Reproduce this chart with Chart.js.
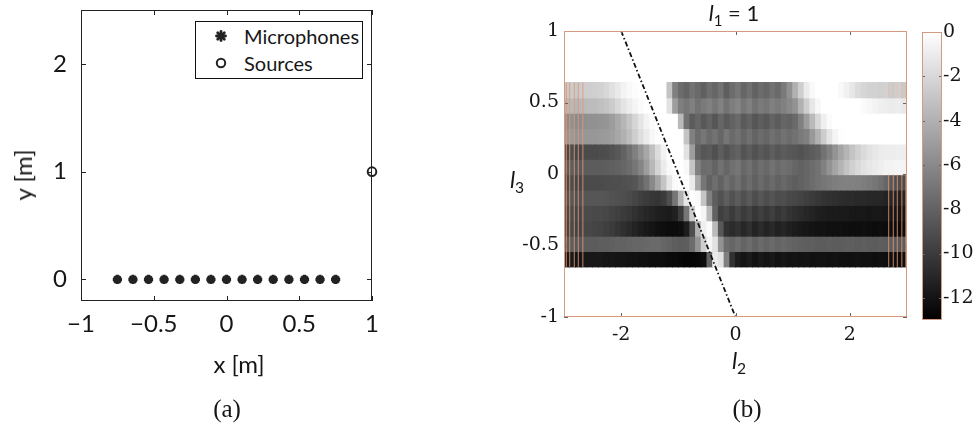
<!DOCTYPE html>
<html><head><meta charset="utf-8">
<script src="https://cdn.jsdelivr.net/npm/chart.js@4.4.1/dist/chart.umd.min.js"></script>
<style>
html,body{margin:0;padding:0;background:#fff;width:979px;height:426px;overflow:hidden;}
#root{position:relative;width:979px;height:426px;}
canvas{position:absolute;}
.lbl{position:absolute;white-space:nowrap;color:#161616;transform:translate(-50%,-50%);line-height:1;}
.sans{font-family:Lato,"Open Sans",sans-serif;}
.serif{font-family:"Liberation Serif","DejaVu Serif",serif;}
.lbl sub{font-size:0.68em;vertical-align:-0.3em;}
#legA{position:absolute;left:195px;top:21px;width:166px;height:56px;border:1px solid #111;background:#fff;}
#legA .row{position:absolute;left:0;height:20px;display:flex;align-items:center;font-family:Lato,sans-serif;font-size:20px;color:#161616;}
#legA svg{margin-left:16px;margin-right:14px;}
</style></head>
<body><div id="root">
<canvas id="cA" width="400" height="426" style="left:0;top:0"></canvas>
<canvas id="cB" width="440" height="426" style="left:480px;top:0"></canvas>
<canvas id="cC" width="79" height="426" style="left:900px;top:0"></canvas>
<div id="legA">
  <div class="row" style="top:4px"><svg width="18" height="18" viewBox="-9 -9 18 18"><g stroke="#222" stroke-width="2.8" stroke-linecap="round"><line x1="-4.5" y1="0" x2="4.5" y2="0"/><line x1="0" y1="-4.5" x2="0" y2="4.5"/><line x1="-3.3" y1="-3.3" x2="3.3" y2="3.3"/><line x1="-3.3" y1="3.3" x2="3.3" y2="-3.3"/></g></svg>Microphones</div>
  <div class="row" style="top:31px"><svg width="18" height="18" viewBox="-9 -9 18 18"><circle cx="0" cy="0" r="4.2" fill="none" stroke="#222" stroke-width="2"/></svg>Sources</div>
</div>
<div class="lbl sans" style="left:239px;top:364px;font-size:24px">x [m]</div>
<div class="lbl sans" style="left:23px;top:175px;font-size:24px;transform:translate(-50%,-50%) rotate(-90deg)">y [m]</div>
<div class="lbl serif" style="left:227px;top:408px;font-size:25px">(a)</div>
<div class="lbl sans" style="left:734px;top:15px;font-size:22px"><i>l</i><sub>1</sub> = 1</div>
<div class="lbl sans" style="left:517px;top:182px;font-size:23px"><i>l</i><sub>3</sub></div>
<div class="lbl sans" style="left:739px;top:363px;font-size:23px"><i>l</i><sub>2</sub></div>
<div class="lbl serif" style="left:747px;top:408px;font-size:25px">(b)</div>
</div>
<script>
// ---------- panel (a) data ----------
const micX = [-0.75,-0.643,-0.536,-0.429,-0.321,-0.214,-0.107,0,0.107,0.214,0.321,0.429,0.536,0.643,0.75];
const micY = [0,0,0,0,0,0,0,0,0,0,0,0,0,0,0];
const srcX = [1];
const srcY = [1];
const xTicksA = [-1,-0.5,0,0.5,1];
const xTickLabelsA = ['\u22121','\u22120.5','0','0.5','1'];
const yTicksA = [0,1,2];
const yTickLabelsA = ['0','1','2'];

// ---------- panel (b) data ----------
const l2Centers = [-2.95,-2.85,-2.75,-2.65,-2.55,-2.45,-2.35,-2.25,-2.15,-2.05,
  -1.95,-1.85,-1.75,-1.65,-1.55,-1.45,-1.35,-1.25,-1.15,-1.05,
  -0.95,-0.85,-0.75,-0.65,-0.55,-0.45,-0.35,-0.25,-0.15,-0.05,
  0.05,0.15,0.25,0.35,0.45,0.55,0.65,0.75,0.85,0.95,
  1.05,1.15,1.25,1.35,1.45,1.55,1.65,1.75,1.85,1.95,
  2.05,2.15,2.25,2.35,2.45,2.55,2.65,2.75,2.85,2.95];
const l3Top    = [0.64,0.5325,0.425,0.3175,0.21,0.1025,-0.005,-0.1125,-0.22,-0.3275,-0.435,-0.5425];
const l3Bottom = [0.5325,0.425,0.3175,0.21,0.1025,-0.005,-0.1125,-0.22,-0.3275,-0.435,-0.5425,-0.65];
const dbRow01 = [-2.8,-2.6,-2.7,-2.5,-2.5,-2.4,-2.3,-2.0,-1.6,-1.1, -0.6,-0.3,-0.1,0,0,0,0,0,-3.0,-6.5,
  -7.5,-7.9,-7.2,-7.6,-8.1,-7.4,-7.8,-7.2,-8.2,-7.5, -7.0,-7.8,-7.3,-8.0,-7.5,-7.8,-7.2,-7.6,-6.8,-5.6,
  -4.0,-2.5,-1.0,-0.3,0,0,0,0,-0.3,-0.7, -1.2,-1.8,-2.1,-2.3,-2.3,-2.4,-2.3,-2.6,-2.4,-2.7];
const dbRow02 = [-3.6,-3.5,-3.7,-3.5,-3.4,-3.4,-3.2,-3.0,-2.6,-2.0, -1.4,-0.9,-0.5,-0.2,0,0,0,0,-1.5,-5.0,
  -6.6,-7.0,-6.5,-7.2,-6.8,-6.5,-7.0,-6.4,-7.2,-6.6, -6.2,-7.0,-6.5,-7.2,-6.8,-7.0,-6.5,-6.8,-6.4,-6.0,
  -5.5,-4.0,-2.5,-1.2,-0.4,0,0,0,0,0, 0,0,-0.2,-0.4,-0.6,-0.8,-0.9,-1.0,-0.9,-1.1];
const dbRow03 = [-5.8,-5.6,-5.9,-5.7,-5.6,-5.6,-5.5,-5.4,-5.0,-4.4, -3.7,-2.9,-2.1,-1.3,-0.6,-0.2,0,0,0,0,
  -3.5,-7.2,-8.3,-7.8,-8.5,-8.0,-8.6,-7.8,-8.4,-8.0, -7.6,-8.4,-8.0,-8.6,-8.2,-8.5,-7.9,-8.3,-7.8,-8.0,
  -7.6,-6.5,-5.0,-3.5,-2.0,-0.8,-0.2,0,0,0, 0,0,0,0,0,0,0,0,0,0];
const dbRow04 = [-5.4,-5.2,-5.5,-5.3,-5.3,-5.3,-5.2,-5.1,-4.9,-4.5, -4.0,-3.3,-2.5,-1.7,-1.0,-0.4,-0.1,0,0,0,
  0,-3.0,-6.5,-7.5,-7.0,-7.6,-7.2,-7.8,-7.0,-7.6, -7.2,-7.8,-7.3,-7.9,-7.5,-7.8,-7.3,-7.6,-7.2,-7.5,
  -7.2,-6.8,-6.5,-5.2,-4.0,-2.6,-1.4,-0.5,-0.1,0, 0,0,0,0,0,0,0,0,0,0];
const dbRow05 = [-9.3,-9.0,-9.4,-9.2,-9.2,-9.2,-9.1,-9.0,-8.8,-8.5, -8.0,-7.3,-6.5,-5.5,-4.5,-3.2,-1.8,-0.6,0,0,
  0,-1.5,-5.0,-8.0,-8.6,-8.4,-8.9,-8.2,-8.8,-8.3, -8.0,-8.7,-8.3,-8.8,-8.4,-8.7,-8.2,-8.6,-8.3,-8.5,
  -8.6,-8.8,-8.5,-8.3,-8.0,-7.2,-6.4,-5.5,-4.6,-3.8, -3.0,-2.4,-1.9,-1.5,-1.2,-1.0,-0.9,-0.9,-0.8,-0.9];
const dbRow06 = [-8.4,-8.2,-8.5,-8.3,-8.3,-8.3,-8.3,-8.2,-8.1,-8.0, -7.8,-7.5,-7.0,-6.2,-5.0,-3.6,-2.2,-1.0,-0.3,0,
  0,-0.3,-3.0,-6.5,-7.5,-7.4,-7.9,-7.2,-7.8,-7.3, -7.0,-7.7,-7.3,-7.9,-7.4,-7.7,-7.2,-7.6,-7.3,-7.5,
  -7.8,-8.0,-7.8,-7.5,-7.2,-6.4,-5.5,-4.6,-3.8,-3.0, -2.4,-1.9,-1.5,-1.2,-1.0,-0.8,-0.6,-0.6,-0.5,-0.6];
const dbRow07 = [-9.3,-9.1,-9.4,-9.2,-9.2,-9.2,-9.2,-9.1,-9.0,-9.0, -8.9,-8.8,-8.6,-8.0,-7.2,-6.0,-4.6,-3.0,-1.2,-0.2,
  0,0,-1.0,-4.5,-7.0,-8.0,-7.4,-8.0,-7.3,-7.8, -7.3,-8.0,-7.5,-8.1,-7.6,-8.0,-7.6,-8.0,-7.7,-8.0,
  -8.2,-8.0,-7.8,-7.5,-7.2,-7.0,-6.8,-6.6,-6.5,-6.4, -6.4,-6.5,-6.6,-6.8,-7.0,-7.3,-7.8,-8.5,-9.0,-9.2];
const dbRow08 = [-8.7,-8.5,-8.8,-8.6,-8.6,-8.6,-8.6,-8.7,-8.8,-8.9, -9.0,-9.2,-9.5,-9.8,-10.0,-10.2,-10.3,-10.0,-9.0,-7.0,
  -4.0,-1.2,0,-0.3,-3.0,-6.5,-8.2,-8.8,-8.2,-8.8, -8.3,-8.9,-8.4,-9.0,-8.6,-9.0,-8.7,-9.1,-9.0,-9.3,
  -9.4,-9.6,-9.8,-10.0,-10.2,-10.4,-10.5,-10.6,-10.7,-10.8, -10.8,-10.9,-10.9,-11.0,-11.0,-11.0,-11.2,-11.0,-11.3,-11.1];
const dbRow09 = [-9.3,-9.1,-9.4,-9.2,-9.2,-9.3,-9.3,-9.4,-9.6,-9.8, -10.0,-10.2,-10.5,-10.8,-11.0,-11.2,-11.4,-11.5,-11.6,-11.3,
  -10.0,-7.0,-2.5,0,-0.5,-3.5,-8.0,-9.8,-9.4,-10.0, -9.4,-10.0,-9.6,-10.2,-9.8,-10.2,-9.8,-10.3,-10.0,-10.4,
  -10.6,-10.8,-11.0,-11.2,-11.4,-11.5,-11.6,-11.6,-11.7,-11.7, -11.8,-11.8,-11.8,-11.9,-11.8,-11.8,-11.9,-11.8,-12.0,-11.9];
const dbRow10 = [-9.5,-9.3,-9.6,-9.4,-9.4,-9.5,-9.6,-9.8,-10.0,-10.3, -10.6,-10.9,-11.2,-11.5,-11.8,-12.0,-12.2,-12.3,-12.4,-12.4,
  -12.3,-11.5,-9.0,-4.0,-0.8,-0.2,-3.5,-8.5,-10.5,-10.8, -10.5,-11.0,-10.6,-11.2,-10.8,-11.2,-10.9,-11.3,-11.1,-11.4,
  -11.6,-11.8,-11.9,-12.0,-12.1,-12.1,-12.2,-12.2,-12.2,-12.3, -12.3,-12.3,-12.2,-12.3,-12.4,-12.3,-12.4,-12.3,-12.5,-12.4];
const dbRow11 = [-8.4,-8.2,-8.5,-8.3,-8.3,-8.3,-8.2,-8.2,-8.1,-8.0, -8.0,-7.9,-7.8,-7.8,-7.7,-7.6,-7.6,-7.8,-8.0,-8.2,
  -8.3,-8.2,-7.5,-5.5,-2.5,-0.5,-1.5,-5.5,-7.5,-7.8, -7.4,-7.9,-7.5,-8.0,-7.6,-7.9,-7.6,-7.9,-7.7,-7.9,
  -8.0,-8.1,-8.2,-8.2,-8.3,-8.3,-8.2,-8.3,-8.3,-8.2, -8.2,-8.3,-8.2,-8.3,-8.3,-8.2,-8.3,-8.2,-8.4,-8.3];
const dbRow12 = [-11.9,-11.7,-12.0,-11.8,-11.8,-11.8,-11.8,-11.9,-11.9,-12.0, -12.0,-12.1,-12.1,-12.2,-12.2,-12.3,-12.3,-12.4,-12.5,-12.5,
  -12.6,-12.7,-12.7,-12.6,-12.4,-8.0,-1.0,-1.5,-6.5,-10.5, -11.6,-12.0,-11.7,-12.1,-11.8,-12.0,-11.8,-12.1,-11.9,-12.1,
  -12.0,-12.1,-12.0,-12.2,-12.1,-12.1,-12.2,-12.1,-12.2,-12.2, -12.2,-12.1,-12.2,-12.2,-12.3,-12.2,-12.3,-12.2,-12.4,-12.3];
const dbRows = [dbRow01,dbRow02,dbRow03,dbRow04,dbRow05,dbRow06,dbRow07,dbRow08,dbRow09,dbRow10,dbRow11,dbRow12];
const lineL2 = [-2, 0];
const lineL3 = [1, -1];
const stripeLeftL2 = [-2.96,-2.90,-2.82,-2.75,-2.67];
const stripeLeftL3 = [-0.65, 0.64];
const stripeRightL2 = [2.68,2.76,2.83,2.91,2.98];
const stripeRightL3Low = [-0.65, -0.005];
const stripeRightL3High = [0.5325, 0.64];
const xTicksB = [-2,0,2];
const xTickLabelsB = ['-2','0','2'];
const yTicksB = [-1,-0.5,0,0.5,1];
const yTickLabelsB = ['-1','-0.5','0','0.5','1'];
const cbTicks = [0,-2,-4,-6,-8,-10,-12];
const cbTickLabels = ['0','-2','-4','-6','-8','-10','-12'];
const cbRange = [-13, 0];

// ---------- helpers ----------
function gray(v){
  const t = Math.max(0, Math.min(1, (v - cbRange[0]) / (cbRange[1] - cbRange[0])));
  const g = Math.round(255 * t);
  return 'rgb(' + g + ',' + g + ',' + g + ')';
}
function fixV(w){ return s => { s.width = w; s.paddingTop = 0; s.paddingBottom = 0; }; }
function fixH(h){ return s => { s.height = h; s.paddingLeft = 0; s.paddingRight = 0; }; }
const boxPlugin = {
  id: 'boxTicks',
  afterDraw(chart, args, o){
    const {ctx, chartArea: a} = chart;
    ctx.save();
    ctx.lineWidth = 1;
    ctx.strokeStyle = o.tickColor;
    const L = o.len;
    if (o.xTicks) {
      const xs = chart.scales.x;
      xs.ticks.forEach(t => {
        const p = Math.round(xs.getPixelForValue(t.value)) + 0.5;
        ctx.beginPath();
        ctx.moveTo(p, a.bottom); ctx.lineTo(p, a.bottom - L);
        ctx.moveTo(p, a.top); ctx.lineTo(p, a.top + L);
        ctx.stroke();
      });
    }
    const ys = chart.scales.y;
    ys.ticks.forEach(t => {
      const p = Math.round(ys.getPixelForValue(t.value)) + 0.5;
      ctx.beginPath();
      ctx.moveTo(a.left, p); ctx.lineTo(a.left + L, p);
      ctx.moveTo(a.right, p); ctx.lineTo(a.right - L, p);
      ctx.stroke();
    });
    ctx.strokeStyle = o.boxColor;
    ctx.strokeRect(Math.round(a.left) + 0.5, Math.round(a.top) + 0.5, Math.round(a.right - a.left) - 1, Math.round(a.bottom - a.top) - 1);
    ctx.restore();
  }
};
Chart.defaults.animation = false;
Chart.defaults.plugins.legend.display = false;
Chart.defaults.plugins.tooltip.enabled = false;
const noGrid = { display: false, drawTicks: false, tickLength: 0 };

// ---------- panel (a) ----------
new Chart(document.getElementById('cA'), {
  type: 'scatter',
  data: { datasets: [
    { data: micX.map((x,i)=>({x, y: micY[i]})), pointStyle: 'star', pointRadius: 4.6, borderWidth: 3,
      borderColor: '#222', backgroundColor: '#222', clip: false },
    { data: srcX.map((x,i)=>({x, y: srcY[i]})), pointStyle: 'circle', pointRadius: 4.3, borderWidth: 2,
      borderColor: '#222', backgroundColor: 'rgba(0,0,0,0)', clip: false }
  ]},
  options: {
    responsive: false,
    layout: { padding: { top: 10, right: 28, left: 0, bottom: 0 } },
    scales: {
      x: { type: 'linear', min: -1, max: 1,
        afterBuildTicks: s => { s.ticks = xTicksA.map(v => ({value: v})); },
        afterFit: fixH(125),
        grid: noGrid, border: { display: false },
        ticks: { autoSkip: false, maxRotation: 0, padding: 9, color: '#161616',
          font: { family: 'Lato', size: 24 },
          callback: v => xTickLabelsA[xTicksA.indexOf(v)] } },
      y: { type: 'linear', min: -0.2, max: 2.5,
        afterBuildTicks: s => { s.ticks = yTicksA.map(v => ({value: v})); },
        afterFit: fixV(81),
        grid: noGrid, border: { display: false },
        ticks: { autoSkip: false, padding: 14, color: '#161616',
          font: { family: 'Lato', size: 24 },
          callback: v => yTickLabelsA[yTicksA.indexOf(v)] } }
    },
    plugins: { boxTicks: { tickColor: '#222', boxColor: '#222', len: 5, xTicks: true } }
  },
  plugins: [boxPlugin]
});

// ---------- panel (b) ----------
const heatSets = dbRows.map((row, r) => ({
  type: 'bar', order: 10,
  data: l2Centers.map(x => ({x, y: [l3Bottom[r], l3Top[r]]})),
  backgroundColor: row.map(gray),
  borderWidth: 0, borderSkipped: false, grouped: false,
  barPercentage: 1, categoryPercentage: 1, inflateAmount: 0.45
}));
function stripePoints(xs, lo, hi){
  const pts = [];
  xs.forEach(x => { pts.push({x, y: lo}); pts.push({x, y: hi}); pts.push({x, y: null}); });
  return pts;
}
const stripeStyle = { type: 'line', order: 5, borderColor: 'rgba(222,150,118,0.85)', borderWidth: 1,
  pointRadius: 0, spanGaps: false, tension: 0 };
new Chart(document.getElementById('cB'), {
  type: 'bar',
  data: { datasets: heatSets.concat([
    Object.assign({ data: stripePoints(stripeLeftL2, stripeLeftL3[0], stripeLeftL3[1]) }, stripeStyle),
    Object.assign({ data: stripePoints(stripeRightL2, stripeRightL3Low[0], stripeRightL3Low[1]) }, stripeStyle),
    Object.assign({ data: stripePoints(stripeRightL2, stripeRightL3High[0], stripeRightL3High[1]) }, stripeStyle, {borderColor: 'rgba(230,185,165,0.7)'}),
    { type: 'line', order: 0, data: lineL2.map((x,i)=>({x, y: lineL3[i]})), borderColor: '#111',
      borderWidth: 1.8, borderDash: [5, 2.5, 1.5, 2.5], pointRadius: 0, clip: false }
  ])},
  options: {
    responsive: false,
    layout: { padding: { top: 31, right: 13, left: 0, bottom: 0 } },
    scales: {
      x: { type: 'linear', min: -3, max: 3, offset: false,
        afterBuildTicks: s => { s.ticks = xTicksB.map(v => ({value: v})); },
        afterFit: fixH(109),
        grid: noGrid, border: { display: false },
        ticks: { autoSkip: false, maxRotation: 0, padding: 7, color: '#161616',
          font: { family: 'DejaVu Serif', size: 19 },
          callback: v => xTickLabelsB[xTicksB.indexOf(v)] } },
      y: { type: 'linear', min: -1, max: 1,
        afterBuildTicks: s => { s.ticks = yTicksB.map(v => ({value: v})); },
        afterFit: fixV(84),
        grid: noGrid, border: { display: false },
        ticks: { autoSkip: false, padding: 5, color: '#161616',
          font: { family: 'DejaVu Serif', size: 19 },
          callback: v => yTickLabelsB[yTicksB.indexOf(v)] } }
    },
    plugins: { boxTicks: { tickColor: '#666', boxColor: '#d49a82', len: 4, xTicks: true } }
  },
  plugins: [boxPlugin]
});

// ---------- colorbar ----------
new Chart(document.getElementById('cC'), {
  type: 'bar',
  data: { labels: ['dB'], datasets: [{
    data: [cbRange],
    backgroundColor: ctx => {
      const ch = ctx.chart;
      if (!ch.chartArea) return '#888';
      const ys = ch.scales.y;
      const g = ch.ctx.createLinearGradient(0, ys.getPixelForValue(cbRange[1]), 0, ys.getPixelForValue(cbRange[0]));
      g.addColorStop(0, gray(cbRange[1]));
      g.addColorStop(1, gray(cbRange[0]));
      return g;
    },
    borderWidth: 0, borderSkipped: false, barPercentage: 1, categoryPercentage: 1
  }]},
  options: {
    responsive: false,
    layout: { padding: { top: 32, right: 0, left: 22, bottom: 106 } },
    scales: {
      x: { display: false },
      y: { type: 'linear', position: 'right', min: cbRange[0], max: cbRange[1],
        afterBuildTicks: s => { s.ticks = cbTicks.map(v => ({value: v})); },
        afterFit: fixV(37),
        grid: noGrid, border: { display: false },
        ticks: { autoSkip: false, padding: 1, color: '#161616',
          font: { family: 'DejaVu Serif', size: 19 },
          callback: v => cbTickLabels[cbTicks.indexOf(v)] } }
    },
    plugins: { boxTicks: { tickColor: '#666', boxColor: '#d49a82', len: 3, xTicks: false } }
  },
  plugins: [boxPlugin]
});
</script>
</body></html>
